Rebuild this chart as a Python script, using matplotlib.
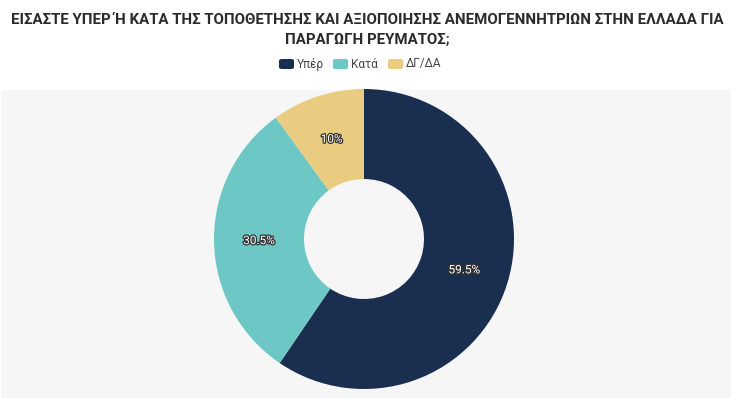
import matplotlib.pyplot as plt
import matplotlib.patheffects as pe
from matplotlib.patches import FancyBboxPatch

labels = ['Υπέρ', 'Κατά', 'ΔΓ/ΔΑ']
values = [59.5, 30.5, 10]
colors = ['#1a2e4f', '#6cc7c5', '#e9cc80']
title = 'ΕΙΣΑΣΤΕ ΥΠΕΡ Ή ΚΑΤΑ ΤΗΣ ΤΟΠΟΘΕΤΗΣΗΣ ΚΑΙ ΑΞΙΟΠΟΙΗΣΗΣ ΑΝΕΜΟΓΕΝΝΗΤΡΙΩΝ ΣΤΗΝ ΕΛΛΑΔΑ ΓΙΑ\nΠΑΡΑΓΩΓΗ ΡΕΥΜΑΤΟΣ;'
font = ['Roboto', 'DejaVu Sans']

W, H = 734, 398
fig = plt.figure(figsize=(W / 100, H / 100), dpi=100)
fig.patch.set_facecolor('white')

# grey panel behind the donut
bg = fig.add_axes([1 / W, 0, 730 / W, (H - 90) / H], zorder=-1)
bg.set_facecolor('#f6f6f6')
bg.axis('off')
bg.add_patch(plt.Rectangle((0, 0), 1, 1, transform=bg.transAxes,
                           facecolor='#f6f6f6', edgecolor='none'))

fig.text(0.5, 1 - 30 / H, title, ha='center', va='center', fontsize=10.8,
         fontweight='bold', color='#2b2b2b', linespacing=1.6, family=font)

# legend
lx = [279, 333, 388]
for x, lab, c in zip(lx, labels, colors):
    fig.patches.append(FancyBboxPatch((x / W, 1 - 69 / H), 15 / W, 10 / H,
                                      boxstyle='round,pad=0,rounding_size=0.004',
                                      transform=fig.transFigure, facecolor=c,
                                      edgecolor='none'))
    fig.text((x + 18) / W, 1 - 64 / H, lab, ha='left', va='center',
             fontsize=8.5, color='#444444', family=font)

cx, cy, r = 364, 239, 150
ax = fig.add_axes([(cx - r) / W, (H - cy - r) / H, 2 * r / W, 2 * r / H])
wedges, texts = ax.pie(values, colors=colors, startangle=90, counterclock=False,
                       radius=1, labels=[f'{v:g}%' for v in values],
                       labeldistance=0.7,
                       wedgeprops=dict(width=0.6, edgecolor='none'))
for t in texts:
    t.set_ha('center')
    t.set_va('center')
    t.set_color('white')
    t.set_fontsize(8.5)
    t.set_family(font)
    t.set_path_effects([pe.withStroke(linewidth=1.8, foreground='#333333')])
ax.set_xlim(-1, 1)
ax.set_ylim(-1, 1)
ax.set_aspect('auto')
ax.axis('off')

fig.savefig('out.png', dpi=100)
